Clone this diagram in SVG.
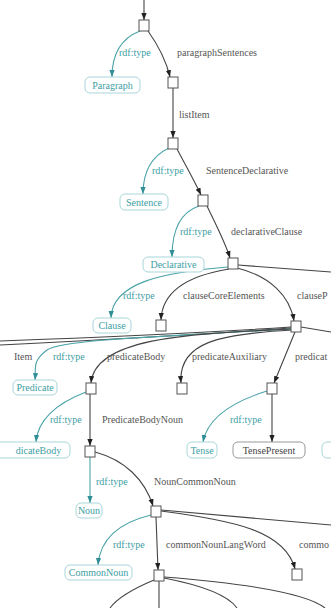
<svg xmlns="http://www.w3.org/2000/svg" width="331" height="608" viewBox="0 0 331 608">
<style>
text{font-family:"Liberation Serif","Times New Roman",serif;font-size:10px}
.lbl{fill:#555}
.tl{fill:#3e9ea4}
.e{fill:none;stroke:#444;stroke-width:1.1}
.et{fill:none;stroke:#4aa3a8;stroke-width:1.1}
.n{fill:#fff;stroke:#555;stroke-width:1}
.b{fill:#fff;stroke:#a9d6d9;stroke-width:1}
.bg{fill:#fff;stroke:#999;stroke-width:1}
.bt{fill:#3e9ea4;text-anchor:middle}
.btg{fill:#444;text-anchor:middle}
</style>
<defs>
<marker id="ad" viewBox="0 0 8 6" refX="8" refY="3" markerWidth="7" markerHeight="5.5" markerUnits="userSpaceOnUse" orient="auto"><path d="M0 0L8 3L0 6z" fill="#222"/></marker>
<marker id="at" viewBox="0 0 8 6" refX="8" refY="3" markerWidth="7" markerHeight="5.5" markerUnits="userSpaceOnUse" orient="auto"><path d="M0 0L8 3L0 6z" fill="#2f8f95"/></marker>
</defs>
<g id="connectors">
<path class="e" d="M144 0L144 20" marker-end="url(#ad)"/>
<path class="et" d="M140 31C122 38 112 52 112 77" marker-end="url(#at)"/>
<path class="e" d="M148 31C158 45 166 60 170 77" marker-end="url(#ad)"/>
<path class="e" d="M173 88L173 138" marker-end="url(#ad)"/>
<path class="et" d="M169 148C152 156 143 172 143 194" marker-end="url(#at)"/>
<path class="e" d="M177 149C186 166 195 182 201 195" marker-end="url(#ad)"/>
<path class="et" d="M199 206C181 212 172 230 172 257" marker-end="url(#at)"/>
<path class="e" d="M207 206C216 225 225 242 230 258" marker-end="url(#ad)"/>
<path class="et" d="M228 267C165 272 112 282 111 318" marker-end="url(#at)"/>
<path class="e" d="M229 269C186 276 162 292 161 320" marker-end="url(#ad)"/>
<path class="e" d="M237 268C270 276 290 296 294 321" marker-end="url(#ad)"/>
<path class="e" d="M238 265L331 272"/>
<path class="e" d="M291 327C200 333 80 338 0 341"/>
<path class="e" d="M291 328C200 335 80 341 0 345"/>
<path class="et" d="M291 329C180 336 62 339 47 350S36 368 35 380" marker-end="url(#at)"/>
<path class="e" d="M291 329C190 334 95 337 91 383" marker-end="url(#ad)"/>
<path class="e" d="M292 330C220 334 178 342 181 383" marker-end="url(#ad)"/>
<path class="e" d="M295 332L274 383" marker-end="url(#ad)"/>
<path class="e" d="M301 327L331 332"/>
<path class="et" d="M86 392C60 402 38 418 36 442" marker-end="url(#at)"/>
<path class="e" d="M90 394L90 446" marker-end="url(#ad)"/>
<path class="et" d="M267 391C238 400 208 415 203 442" marker-end="url(#at)"/>
<path class="e" d="M272 394L272 442" marker-end="url(#ad)"/>
<path class="et" d="M90 457L90 503" marker-end="url(#at)"/>
<path class="e" d="M95 452C125 460 145 480 153 506" marker-end="url(#ad)"/>
<path class="et" d="M151 515C118 523 100 540 98 565" marker-end="url(#at)"/>
<path class="e" d="M156 517L158 570" marker-end="url(#ad)"/>
<path class="e" d="M161 511C230 520 285 530 295 569" marker-end="url(#ad)"/>
<path class="e" d="M161 510L331 525"/>
<path class="e" d="M154 580C135 588 118 597 110 608"/>
<path class="e" d="M159 581L159 608"/>
<path class="e" d="M164 578C200 585 228 595 237 608"/>
<path class="e" d="M164 577C240 583 305 592 325 608"/>
</g>
<g id="labels">
<text class="tl" x="119" y="56">rdf:type</text>
<text class="lbl" x="177" y="56">paragraphSentences</text>
<text class="lbl" x="179" y="118">listItem</text>
<text class="tl" x="152" y="174">rdf:type</text>
<text class="lbl" x="206" y="174">SentenceDeclarative</text>
<text class="tl" x="180" y="235">rdf:type</text>
<text class="lbl" x="231" y="235">declarativeClause</text>
<text class="tl" x="123" y="299">rdf:type</text>
<text class="lbl" x="183" y="299">clauseCoreElements</text>
<text class="lbl" x="297" y="299">clauseP</text>
<text class="lbl" x="14" y="360">Item</text>
<text class="tl" x="53" y="360">rdf:type</text>
<text class="lbl" x="107" y="360">predicateBody</text>
<text class="lbl" x="192" y="360">predicateAuxiliary</text>
<text class="lbl" x="295" y="360">predicat</text>
<text class="tl" x="50" y="423">rdf:type</text>
<text class="lbl" x="102" y="423">PredicateBodyNoun</text>
<text class="tl" x="230" y="423">rdf:type</text>
<text class="tl" x="96" y="485">rdf:type</text>
<text class="lbl" x="154" y="485">NounCommonNoun</text>
<text class="tl" x="113" y="548">rdf:type</text>
<text class="lbl" x="166" y="548">commonNounLangWord</text>
<text class="lbl" x="299" y="548">commo</text>
</g>
<g id="n0"><rect class="n" x="139" y="20" width="10" height="11"/></g>
<g id="n1"><rect class="n" x="168" y="77" width="10" height="11"/></g>
<g id="n2"><rect class="n" x="168" y="138" width="10" height="11"/></g>
<g id="n3"><rect class="n" x="198" y="195" width="10" height="11"/></g>
<g id="n4"><rect class="n" x="228" y="258" width="10" height="11"/></g>
<g id="n5"><rect class="n" x="156" y="320" width="10" height="11"/></g>
<g id="n6"><rect class="n" x="291" y="321" width="10" height="11"/></g>
<g id="n7"><rect class="n" x="86" y="383" width="10" height="11"/></g>
<g id="n8"><rect class="n" x="177" y="383" width="10" height="11"/></g>
<g id="n9"><rect class="n" x="267" y="383" width="10" height="11"/></g>
<g id="n10"><rect class="n" x="85" y="446" width="10" height="11"/></g>
<g id="n11"><rect class="n" x="151" y="506" width="10" height="11"/></g>
<g id="n12"><rect class="n" x="154" y="570" width="10" height="11"/></g>
<g id="n13"><rect class="n" x="292" y="569" width="10" height="11"/></g>
<g id="paragraph"><rect class="b" x="85" y="77" width="55" height="16" rx="5"/><text class="bt" x="112.5" y="88.5">Paragraph</text></g>
<g id="sentence"><rect class="b" x="120" y="194" width="48" height="16" rx="5"/><text class="bt" x="144" y="205.5">Sentence</text></g>
<g id="declarative"><rect class="b" x="143" y="257" width="61" height="15" rx="5"/><text class="bt" x="173.5" y="268">Declarative</text></g>
<g id="clause"><rect class="b" x="93" y="318" width="38" height="15" rx="5"/><text class="bt" x="112" y="329">Clause</text></g>
<g id="predicate"><rect class="b" x="13" y="380" width="44" height="15" rx="5"/><text class="bt" x="35" y="391">Predicate</text></g>
<g id="predicatebody"><rect class="b" x="-6" y="442" width="76" height="16" rx="5"/><text class="bt" x="38.5" y="453.5">dicateBody</text></g>
<g id="tense"><rect class="b" x="187" y="442" width="30" height="16" rx="5"/><text class="bt" x="202" y="453.5">Tense</text></g>
<g id="tensepresent"><rect class="bg" x="233" y="442" width="72" height="16" rx="5"/><text class="btg" x="269" y="453.5">TensePresent</text></g>
<g id="partialbox"><rect class="b" x="322" y="442" width="30" height="16" rx="5"/></g>
<g id="noun"><rect class="b" x="76" y="503" width="26" height="15" rx="5"/><text class="bt" x="89" y="514">Noun</text></g>
<g id="commonnoun"><rect class="b" x="65" y="565" width="67" height="15" rx="5"/><text class="bt" x="98.5" y="576">CommonNoun</text></g>
</svg>
